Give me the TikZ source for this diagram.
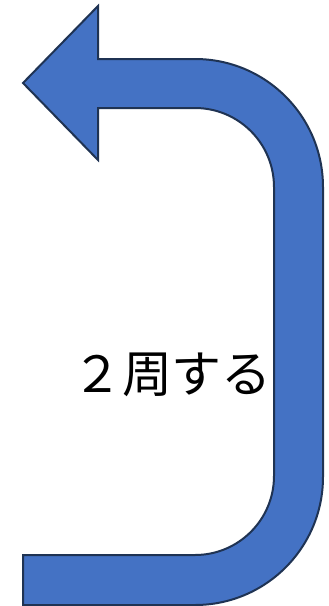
\documentclass[tikz,border=0pt]{standalone}
\usepackage{fontspec}
\newfontfamily\cjk{Noto Sans CJK JP}
\definecolor{arrfill}{HTML}{4472C4}
\definecolor{arrline}{HTML}{1F3353}
\begin{document}
\begin{tikzpicture}[x=1pt,y=-1pt,
  uarrow/.style={fill=arrfill,draw=arrline,line width=2pt,line join=miter},
  lbl/.style={font=\cjk\fontsize{50}{54}\selectfont,inner sep=0pt}]
\useasboundingbox (0,0) rectangle (329,606);
\draw[uarrow] (23,83) -- (98,6) -- (98,59) -- (195,59)
  arc[start angle=-90,end angle=0,radius=128]
  -- (323,477)
  arc[start angle=0,end angle=90,radius=128]
  -- (23,605) -- (23,555) -- (195,555)
  arc[start angle=90,end angle=0,radius=79]
  -- (274,187)
  arc[start angle=0,end angle=-90,radius=79]
  -- (98,108) -- (98,160) -- cycle;
\node[lbl] (t) at (172,375) {２周する};
\end{tikzpicture}
\end{document}
